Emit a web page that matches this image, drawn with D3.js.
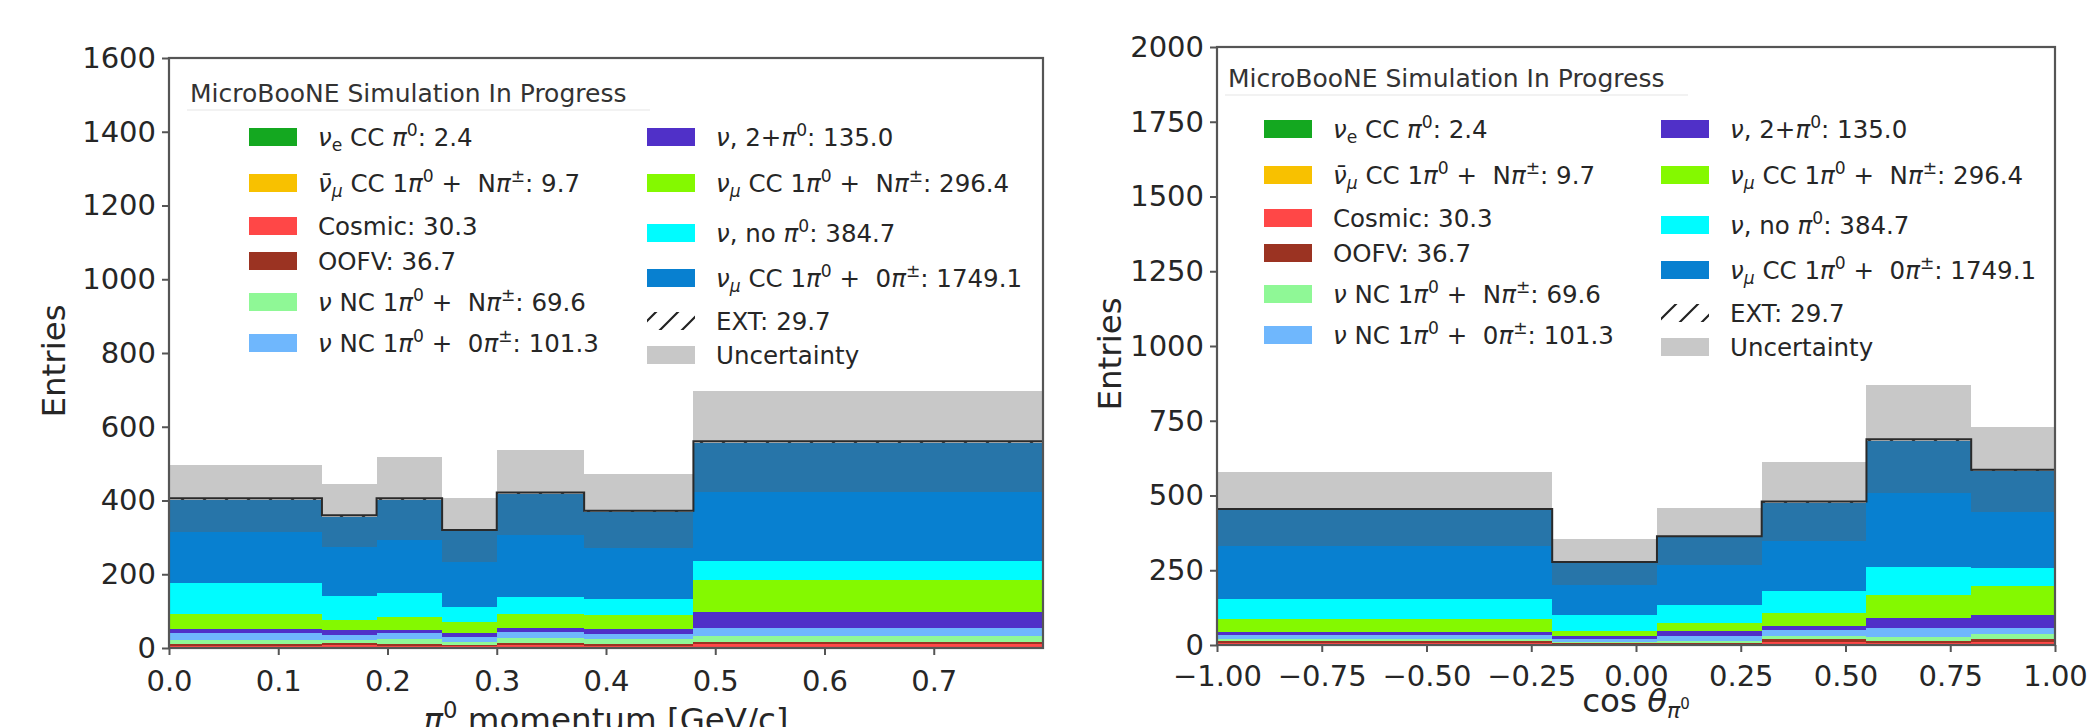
<!DOCTYPE html>
<html>
<head>
<meta charset="utf-8">
<script src="https://cdn.jsdelivr.net/npm/d3@7"></script>
<style>
  body { margin: 0; background: #fff; }
  svg { display: block; font-family: "DejaVu Sans", sans-serif; }
  text { white-space: pre; }
</style>
</head>
<body>
<div id="chart"></div>
<script>
// stack order, bottom to top
const categories = ["nue", "numubar", "cosmic", "oofv", "ncN", "nc0", "twoPi", "numuN", "noPi", "numu0", "ext"];
const legendLabels = [
  "ν_{e} CC π^{0}: 2.4",
  "ν̄_{μ} CC 1π^{0} +  Nπ^{±}: 9.7",
  "Cosmic: 30.3",
  "OOFV: 36.7",
  "ν NC 1π^{0} +  Nπ^{±}: 69.6",
  "ν NC 1π^{0} +  0π^{±}: 101.3",
  "ν, 2+π^{0}: 135.0",
  "ν_{μ} CC 1π^{0} +  Nπ^{±}: 296.4",
  "ν, no π^{0}: 384.7",
  "ν_{μ} CC 1π^{0} +  0π^{±}: 1749.1",
  "EXT: 29.7",
  "Uncertainty"
];
const colors = ["#14a820", "#f8c100", "#ff4747", "#9b3322", "#8ff896", "#6fb7fd",
                "#5030c8", "#84f900", "#00fcff", "#0880d0"];

// pi0 momentum panel
const momEdges   = [0, 0.14, 0.19, 0.25, 0.30, 0.38, 0.48, 0.80];
const momNue     = [0.3, 0.2, 0.3, 0.2, 0.4, 0.3, 0.7];
const momNumubar = [1.2, 0.8, 1.2, 0.8, 1.5, 1.3, 3.0];
const momCosmic  = [4.5, 7.0, 4.5, 3.5, 5.0, 4.0, 6.0];
const momOofv    = [6.0, 6.0, 6.0, 4.5, 6.5, 5.0, 7.0];
const momNcN     = [11, 8, 12, 8, 13, 13, 15];
const momNc0     = [17, 12, 16, 14, 18, 14, 22];
const momTwoPi   = [12, 14, 10, 10, 11, 14, 44];
const momNumuN   = [41, 29, 35, 30, 36, 38, 86];
const momNoPi    = [84, 64, 63, 39, 47, 42, 52];
const momNumu0   = [225, 214, 254, 206, 279, 236, 321];
const momExt     = [4, 5, 4, 4, 4.6, 4.4, 4.3];
const momErr     = [91, 86, 112, 88, 115, 100, 137];
const momXTicks  = [0, 0.1, 0.2, 0.3, 0.4, 0.5, 0.6, 0.7];
const momYTicks  = [0, 200, 400, 600, 800, 1000, 1200, 1400, 1600];

// cos theta panel
const cosEdges   = [-1, -0.2, 0.05, 0.3, 0.55, 0.8, 1.0];
const cosNue     = [0.5, 0.2, 0.3, 0.4, 0.4, 0.4];
const cosNumubar = [2.0, 1.0, 1.0, 2.1, 1.6, 1.5];
const cosCosmic  = [5.0, 2.5, 3.0, 7.5, 4.0, 9.0];
const cosOofv    = [6.0, 3.0, 3.7, 9.0, 6.0, 8.0];
const cosNcN     = [7, 5, 6, 12, 16, 19];
const cosNc0     = [13, 10, 16, 18, 30, 18];
const cosTwoPi   = [11, 10, 16, 16, 31, 44];
const cosNumuN   = [41, 16, 27, 42, 79, 97];
const cosNoPi    = [70, 52, 60, 75, 93, 62];
const cosNumu0   = [295, 174, 227, 293, 422, 322];
const cosExt     = [4.5, 4.3, 4, 5, 5, 5];
const cosErr     = [125, 76, 95, 133, 180, 142];
const cosXTicks  = [-1, -0.75, -0.5, -0.25, 0, 0.25, 0.5, 0.75, 1];
const cosYTicks  = [0, 250, 500, 750, 1000, 1250, 1500, 1750, 2000];

const W = 2088, H = 727;
const textColor = "#262626";

const svg = d3.select("#chart").append("svg")
  .attr("width", W).attr("height", H)
  .attr("viewBox", `0 0 ${W} ${H}`);

// hatch for EXT
const defs = svg.append("defs");
defs.append("pattern")
  .attr("id", "hatch")
  .attr("patternUnits", "userSpaceOnUse")
  .attr("width", 22).attr("height", 22)
  .append("path")
  .attr("d", "M-5.5,5.5L5.5,-5.5M0,22L22,0M16.5,27.5L27.5,16.5")
  .attr("stroke", "#222").attr("stroke-width", 2.2);

// rich text: _{sub} ^{sup}, greek letters italic
function richText(sel, str, fs) {
  const state = { cur: 0 };
  const move = (ts, target) => {
    const d = target - state.cur;
    if (d) ts.attr("dy", d);
    state.cur = target;
  };
  const plain = (s, size, target) => {
    s.split(/([νπθμ]\u0304?)/).filter(t => t).forEach(t => {
      const ts = sel.append("tspan").attr("font-size", size).text(t);
      if (/^[νπθμ]/.test(t)) ts.attr("font-style", "italic");
      move(ts, target);
    });
  };
  const re = /([_^])\{([^}]*)\}|([^_^]+)/g;
  let m;
  while ((m = re.exec(str))) {
    if (m[3]) plain(m[3], fs, 0);
    else plain(m[2], fs * 0.7, m[1] === "^" ? -0.4 * fs : 0.22 * fs);
  }
}

function drawPanel(p) {
  const x = d3.scaleLinear().domain(p.xDomain).range([p.x0, p.x1]);
  const y = d3.scaleLinear().domain([0, p.yMax]).range([p.y1, p.y0]);

  const bins = p.edges.slice(0, -1).map((lo, i) => {
    const row = { lo, hi: p.edges[i + 1], err: p.err[i] };
    categories.forEach((c, k) => row[c] = p.series[k][i]);
    return row;
  });
  const totals = bins.map(b => d3.sum(categories, c => b[c]));
  const stacked = d3.stack().keys(categories)(bins);

  const g = svg.append("g");

  // stacked histogram
  g.selectAll("g.layer")
    .data(stacked)
    .join("g")
    .attr("fill", (d, i) => i < colors.length ? colors[i] : "url(#hatch)")
    .selectAll("rect")
    .data(d => d)
    .join("rect")
    .attr("x", d => x(d.data.lo))
    .attr("width", d => x(d.data.hi) - x(d.data.lo))
    .attr("y", d => y(d[1]))
    .attr("height", d => y(d[0]) - y(d[1]))
    .attr("shape-rendering", "crispEdges");

  // uncertainty band
  g.selectAll("rect.unc")
    .data(bins)
    .join("rect")
    .attr("class", "unc")
    .attr("x", d => x(d.lo))
    .attr("width", d => x(d.hi) - x(d.lo))
    .attr("y", (d, i) => y(totals[i] + d.err))
    .attr("height", (d, i) => y(totals[i] - d.err) - y(totals[i] + d.err))
    .attr("fill", "rgba(97,97,97,0.35)")
    .attr("shape-rendering", "crispEdges");

  // outline of the total
  const pts = bins.map((b, i) => [b.lo, totals[i]]);
  pts.push([p.edges[p.edges.length - 1], totals[totals.length - 1]]);
  g.append("path")
    .attr("d", d3.line().x(d => x(d[0])).y(d => y(d[1])).curve(d3.curveStepAfter)(pts))
    .attr("fill", "none")
    .attr("stroke", "#2a2a2a")
    .attr("stroke-width", 2);

  // axes
  const xAxis = g.append("g")
    .attr("transform", `translate(0,${p.y1})`)
    .call(d3.axisBottom(x).tickValues(p.xTicks).tickFormat(d3.format(p.xFormat))
      .tickSize(7).tickPadding(p.xPad));
  const yAxis = g.append("g")
    .attr("transform", `translate(${p.x0},0)`)
    .call(d3.axisLeft(y).tickValues(p.yTicks).tickFormat(d3.format("d"))
      .tickSize(7).tickPadding(6));
  [xAxis, yAxis].forEach(a => {
    a.select(".domain").remove();
    a.selectAll("line").attr("stroke", "#555").attr("stroke-width", 2);
    a.selectAll("text").attr("font-size", 29).attr("fill", textColor)
      .attr("font-family", "DejaVu Sans");
  });

  // frame
  g.append("rect")
    .attr("x", p.x0).attr("y", p.y0)
    .attr("width", p.x1 - p.x0).attr("height", p.y1 - p.y0)
    .attr("fill", "none").attr("stroke", "#555").attr("stroke-width", 2.2);

  // axis labels
  g.append("text")
    .attr("transform", `translate(${p.yLabelX},${(p.y0 + p.y1) / 2 + 8}) rotate(-90)`)
    .attr("text-anchor", "middle")
    .attr("font-size", 32.5).attr("fill", textColor)
    .text("Entries");
  const xl = g.append("text")
    .attr("x", (p.x0 + p.x1) / 2).attr("y", p.xLabelY)
    .attr("text-anchor", "middle")
    .attr("fill", textColor);
  p.xLabel(xl);

  // legend
  const lg = g.append("g");
  lg.append("text")
    .attr("x", p.titleX).attr("y", p.titleY)
    .attr("font-size", 25).attr("fill", "#333")
    .text("MicroBooNE Simulation In Progress");
  lg.append("line")
    .attr("x1", p.titleX - 3).attr("x2", p.titleX + 460)
    .attr("y1", p.titleY + 8).attr("y2", p.titleY + 8)
    .attr("stroke", "#eeeeee").attr("stroke-width", 1.5);

  const col1 = [0, 46, 89, 124, 165, 206];
  const col2 = [0, 46, 96, 141, 184, 218];
  legendLabels.forEach((lab, i) => {
    const c = i < 6 ? 0 : 1;
    const cy = p.legendTop + (c === 0 ? col1[i] : col2[i - 6]);
    const sx = p.swatchX[c];
    const fill = i < colors.length ? colors[i] : (i === 10 ? "url(#hatch)" : "#c8c8c8");
    lg.append("rect")
      .attr("x", sx).attr("y", cy - 9)
      .attr("width", 48).attr("height", 18)
      .attr("fill", fill);
    const t = lg.append("text")
      .attr("x", sx + 69).attr("y", cy + 9)
      .attr("font-size", 24.5).attr("fill", textColor);
    richText(t, lab, 24.5);
  });
}

const momSeries = [momNue, momNumubar, momCosmic, momOofv, momNcN, momNc0,
                   momTwoPi, momNumuN, momNoPi, momNumu0, momExt];
const cosSeries = [cosNue, cosNumubar, cosCosmic, cosOofv, cosNcN, cosNc0,
                   cosTwoPi, cosNumuN, cosNoPi, cosNumu0, cosExt];

drawPanel({
  edges: momEdges, series: momSeries, err: momErr,
  xDomain: [0, 0.8], xTicks: momXTicks, xFormat: ".1f", xPad: 15,
  yMax: 1600, yTicks: momYTicks,
  x0: 169, x1: 1043, y0: 58, y1: 648,
  yLabelX: 65, xLabelY: 731,
  xLabel: t => richText(t, "π^{0} momentum [GeV/c]", 32.5),
  titleX: 190, titleY: 102, legendTop: 137, swatchX: [249, 647]
});

drawPanel({
  edges: cosEdges, series: cosSeries, err: cosErr,
  xDomain: [-1, 1], xTicks: cosXTicks, xFormat: ".2f", xPad: 13,
  yMax: 2000, yTicks: cosYTicks,
  x0: 1217, x1: 2055, y0: 47, y1: 645,
  yLabelX: 1121, xLabelY: 712,
  xLabel: t => {
    t.append("tspan").attr("font-size", 32.5).text("cos ");
    t.append("tspan").attr("font-size", 32.5).attr("font-style", "italic").text("θ");
    t.append("tspan").attr("font-size", 22).attr("font-style", "italic").attr("dy", 6).text("π");
    t.append("tspan").attr("font-size", 15).attr("dy", -9).text("0");
  },
  titleX: 1228, titleY: 87, legendTop: 129, swatchX: [1264, 1661]
});
</script>
</body>
</html>
